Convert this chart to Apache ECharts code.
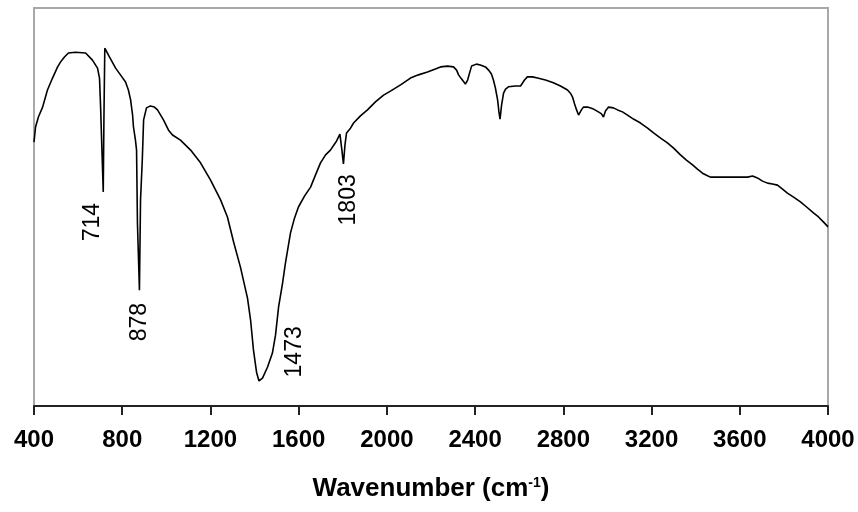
<!DOCTYPE html>
<html>
<head>
<meta charset="utf-8">
<script src="https://cdn.jsdelivr.net/npm/echarts@6/dist/echarts.min.js"></script>
<style>
  html, body { margin: 0; padding: 0; background: #fff; }
  #chart { width: 858px; height: 512px; }
</style>
</head>
<body>
<div id="chart"></div>
<script>
// wavenumber (cm-1) and transmittance (arbitrary units)
const wavenumber = [
  400, 407, 420, 439, 461, 484, 507, 520, 538, 556, 588, 634, 665, 688, 697, 702, 708, 714, 717, 721,
  742, 770, 792, 815, 828, 838, 847, 851, 860, 865, 869, 878, 883, 891, 897, 910, 928, 946, 960, 987,
  1010, 1028, 1064, 1110, 1155, 1200, 1246, 1277, 1305, 1336, 1368, 1382, 1395, 1409, 1420, 1436, 1459, 1481, 1495, 1509,
  1527, 1540, 1563, 1581, 1599, 1627, 1654, 1676, 1699, 1722, 1744, 1772, 1787, 1796, 1803, 1810, 1817, 1835, 1849, 1880,
  1912, 1948, 1985, 2016, 2062, 2107, 2143, 2184, 2220, 2243, 2275, 2302, 2316, 2325, 2338, 2347, 2356, 2361, 2366, 2375,
  2384, 2388, 2406, 2424, 2447, 2461, 2474, 2483, 2492, 2502, 2508, 2513, 2520, 2529, 2538, 2551, 2583, 2606, 2624, 2637,
  2660, 2683, 2719, 2755, 2787, 2819, 2832, 2842, 2851, 2860, 2869, 2876, 2882, 2891, 2910, 2937, 2959, 2973, 2982, 2991,
  3005, 3027, 3046, 3068, 3091, 3118, 3150, 3182, 3209, 3241, 3272, 3300, 3331, 3358, 3386, 3408, 3431, 3449, 3467, 3513,
  3544, 3590, 3635, 3658, 3680, 3703, 3726, 3748, 3771, 3794, 3816, 3844, 3875, 3903, 3934, 3957, 3980, 4000
];
const transmittance = [
  66.3, 70.1, 72.6, 75.1, 79.4, 82.4, 85.2, 86.4, 87.7, 88.7, 88.9, 88.7, 86.9, 84.9, 82.4, 75.1, 64.3, 53.8, 71.9, 89.9,
  87.7, 84.9, 83.2, 81.4, 79.4, 76.9, 73.1, 70.1, 66.8, 64.3, 46.0, 29.1, 51.8, 61.8, 71.9, 74.9, 75.4, 75.1, 74.4, 71.9,
  69.3, 68.1, 66.8, 64.3, 61.1, 56.8, 51.8, 47.5, 41.2, 34.9, 27.1, 21.6, 14.1, 8.5, 6.3, 7.0, 9.8, 13.3, 17.8, 24.9,
  30.9, 35.9, 43.5, 47.2, 50.0, 52.8, 55.0, 58.0, 61.1, 63.1, 64.3, 66.6, 68.3, 64.3, 60.8, 65.6, 68.6, 69.8, 71.1, 72.9,
  74.4, 76.4, 78.1, 79.1, 80.7, 82.4, 83.2, 83.9, 84.7, 85.2, 85.4, 85.2, 84.4, 83.2, 82.2, 81.9, 80.9, 80.4, 81.9, 83.7,
  85.4, 85.9, 85.9, 85.7, 85.2, 84.4, 83.4, 81.9, 79.9, 76.9, 73.9, 72.1, 75.6, 78.6, 79.6, 80.2, 80.4, 80.4, 81.9, 82.7,
  82.7, 82.4, 81.9, 81.2, 80.4, 79.4, 78.6, 77.6, 75.9, 74.4, 73.1, 72.6, 74.4, 75.1, 75.1, 74.6, 73.9, 73.4, 72.6, 74.1,
  75.1, 74.9, 74.4, 73.9, 73.1, 72.1, 71.1, 69.8, 68.6, 67.3, 66.1, 64.8, 63.1, 61.8, 60.6, 59.5, 58.5, 58.0, 57.5, 57.5,
  57.5, 57.5, 57.5, 57.8, 57.3, 56.5, 56.0, 55.8, 55.5, 54.5, 53.5, 52.5, 51.3, 50.0, 48.5, 47.5, 46.2, 45.0
];

// peak annotations (text + where the rotated label sits)
const peakText = ['714', '878', '1473', '1803'];
const peakLabelX = [665, 878, 1581, 1826];
const peakLabelY = [46.2, 21.1, 13.6, 51.8];

const xMin = 400, xMax = 4000, xStep = 400;

const chart = echarts.init(document.getElementById('chart'));
const option = {
  animation: false,
  backgroundColor: '#fff',
  grid: {
    show: true,
    left: 34,
    right: 30,
    top: 8,
    bottom: 106,
    borderColor: '#a8a8a8',
    borderWidth: 2
  },
  xAxis: {
    type: 'value',
    min: xMin,
    max: xMax,
    interval: xStep,
    name: 'Wavenumber (cm{sup|-1})',
    nameLocation: 'middle',
    nameGap: 70,
    nameTextStyle: {
      fontFamily: 'Liberation Sans, Arial, sans-serif',
      fontSize: 26,
      fontWeight: 'bold',
      color: '#000',
      rich: {
        sup: {
          fontFamily: 'Liberation Sans, Arial, sans-serif',
          fontSize: 14,
          fontWeight: 'bold',
          color: '#000',
          verticalAlign: 'top',
          padding: [0, 0, 10, 0]
        }
      }
    },
    axisLine: { show: true, onZero: false, lineStyle: { color: '#222', width: 2 } },
    axisTick: { show: true, length: 9, lineStyle: { color: '#222', width: 2 } },
    axisLabel: {
      margin: 22,
      formatter: v => String(v),
      fontFamily: 'Liberation Sans, Arial, sans-serif',
      fontSize: 24,
      fontWeight: 'bold',
      color: '#000'
    },
    splitLine: { show: false }
  },
  yAxis: {
    type: 'value',
    min: 0,
    max: 100,
    axisLine: { show: false },
    axisTick: { show: false },
    axisLabel: { show: false },
    splitLine: { show: false }
  },
  series: [
    {
      name: 'spectrum',
      type: 'line',
      data: wavenumber.map((w, i) => [w, transmittance[i]]),
      showSymbol: false,
      symbol: 'none',
      lineStyle: { color: '#000', width: 1.6 },
      z: 3
    },
    {
      name: 'peaks',
      type: 'scatter',
      symbolSize: 0,
      itemStyle: { color: '#000' },
      data: peakText.map((t, i) => [peakLabelX[i], peakLabelY[i], t]),
      label: {
        show: true,
        position: 'inside',
        rotate: 90,
        formatter: p => p.data[2],
        fontFamily: 'Liberation Sans, Arial, sans-serif',
        fontSize: 23,
        color: '#000',
        textBorderWidth: 0,
        opacity: 1
      },
      silent: true,
      z: 4
    }
  ]
};
chart.setOption(option);
</script>
</body>
</html>
